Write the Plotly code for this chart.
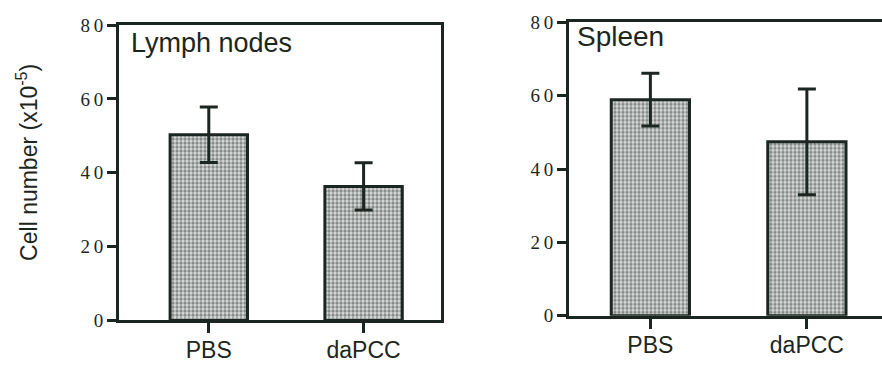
import plotly.graph_objects as go

# Cell counts (x10^-5), mean and error per treatment group
categories = ["PBS", "daPCC"]
lymph_mean = [50.3, 36.3]
lymph_err = [7.5, 6.4]
spleen_mean = [58.9, 47.4]
spleen_err = [7.2, 14.4]

y_tickvals = [0, 20, 40, 60, 80]
y_ticktext = ["0", "2\u20090", "4\u20090", "6\u20090", "8\u20090"]

INK = "#1c2620"
W, H = 882, 373

def px(x):
    return x / W

def py(y):
    return 1 - y / H

def bar_trace(values, errors, xa, ya):
    return go.Bar(
        x=list(range(len(categories))),
        y=values,
        width=0.5,
        xaxis=xa,
        yaxis=ya,
        marker=dict(
            color="#c8c8c8",
            line=dict(color=INK, width=3),
            pattern=dict(shape=".", fgcolor="#2e3a34", bgcolor="#dcdcdc",
                         size=4, solidity=0.55),
        ),
        error_y=dict(type="data", array=errors, visible=True,
                     thickness=3, width=9, color=INK),
        showlegend=False,
    )

fig = go.Figure()
fig.add_trace(bar_trace(lymph_mean, lymph_err, "x", "y"))
fig.add_trace(bar_trace(spleen_mean, spleen_err, "x2", "y2"))

tick_font = dict(family="Liberation Serif", size=19, color=INK)
cat_font = dict(family="Liberation Sans", size=23, color=INK)

common_y = dict(range=[0, 80], tickvals=y_tickvals, ticktext=y_ticktext,
                ticks="outside", ticklen=9, tickwidth=3, tickcolor=INK,
                showline=True, linewidth=3, linecolor=INK, showgrid=False,
                zeroline=False, tickfont=tick_font, fixedrange=True)
common_x = dict(tickvals=[0, 1], ticktext=categories, ticks="outside",
                ticklen=10, tickwidth=3, tickcolor=INK, showline=True,
                linewidth=3, linecolor=INK, showgrid=False, zeroline=False,
                tickfont=cat_font, ticklabelstandoff=-3, fixedrange=True)

fig.update_layout(
    width=W, height=H,
    margin=dict(l=0, r=0, t=0, b=0),
    paper_bgcolor="white", plot_bgcolor="white",
    xaxis=dict(domain=[px(119), px(441)], range=[-0.58, 1.5], mirror=True,
               anchor="y", **common_x),
    yaxis=dict(domain=[py(329), py(16)], mirror=True, anchor="x", **common_y),
    xaxis2=dict(domain=[px(569), 1.0], range=[-0.52, 1.48], mirror=True,
                anchor="y2", **common_x),
    yaxis2=dict(domain=[py(324), py(13)], anchor="x2", **common_y),
    annotations=[
        dict(text="Lymph nodes", xref="x domain", yref="y domain", x=0.03,
             y=0.94, xanchor="left", yanchor="middle", showarrow=False,
             font=dict(family="Liberation Sans", size=27, color=INK)),
        dict(text="Spleen", xref="x2 domain", yref="y2 domain", x=0.02,
             y=0.952, xanchor="left", yanchor="middle", showarrow=False,
             font=dict(family="Liberation Sans", size=28, color=INK)),
        dict(text="Cell number (x10<sup>-5</sup>)", xref="paper",
             yref="paper", x=px(27), y=py(162), textangle=-90,
             xanchor="center", yanchor="middle", showarrow=False,
             font=dict(family="Liberation Sans", size=23, color=INK)),
    ],
)

fig.write_html("out.html")
